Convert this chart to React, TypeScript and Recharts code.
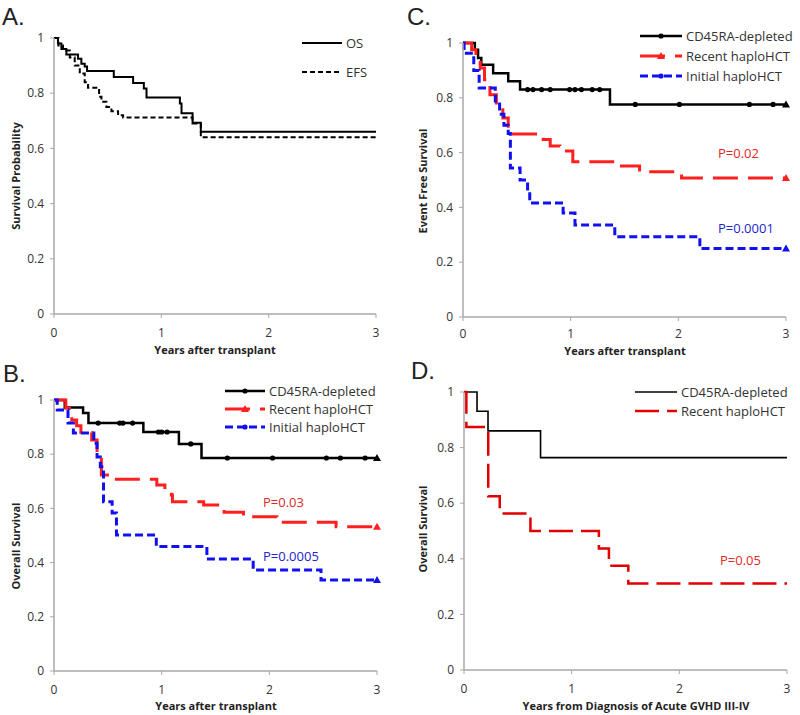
import { LineChart, Line, XAxis, YAxis } from 'recharts';

type Pt = [number, number];

// ---- data (time in years, survival probability) ----
const A_OS: Pt[] = [[0, 1], [0.037, 0.98], [0.069, 0.96], [0.115, 0.94], [0.224, 0.925], [0.255, 0.907], [0.286, 0.897], [0.308, 0.88], [0.557, 0.859], [0.737, 0.837], [0.837, 0.817], [0.862, 0.784], [1.173, 0.763], [1.188, 0.727], [1.291, 0.693], [1.368, 0.66], [3, 0.66]];
const A_EFS: Pt[] = [[0, 1], [0.041, 0.973], [0.084, 0.955], [0.147, 0.929], [0.193, 0.9], [0.24, 0.871], [0.286, 0.84], [0.317, 0.82], [0.42, 0.787], [0.442, 0.769], [0.488, 0.75], [0.535, 0.735], [0.597, 0.72], [0.644, 0.712], [1.291, 0.69], [1.368, 0.64], [3, 0.64]];

const B_DEPLETED: Pt[] = [[0, 1], [0.1, 0.972], [0.27, 0.952], [0.32, 0.915], [0.83, 0.882], [1.16, 0.838], [1.37, 0.786], [3, 0.786]];
const B_DEPLETED_CENSOR = [0.41, 0.61, 0.64, 0.73, 0.97, 1.0, 1.05, 1.27, 1.61, 2.03, 2.53, 2.66, 2.89];
const B_RECENT: Pt[] = [[0, 1], [0.11, 0.97], [0.165, 0.926], [0.21, 0.905], [0.25, 0.88], [0.35, 0.852], [0.4, 0.79], [0.44, 0.723], [0.55, 0.708], [0.955, 0.686], [1.03, 0.667], [1.09, 0.649], [1.1, 0.625], [1.39, 0.613], [1.58, 0.586], [1.76, 0.569], [2.07, 0.549], [2.62, 0.532], [3, 0.532]];
const B_INITIAL: Pt[] = [[0, 1], [0.03, 0.963], [0.13, 0.915], [0.18, 0.878], [0.37, 0.84], [0.4, 0.79], [0.43, 0.754], [0.46, 0.625], [0.54, 0.583], [0.58, 0.502], [0.95, 0.459], [1.42, 0.413], [1.85, 0.373], [2.48, 0.336], [3, 0.336]];

const C_DEPLETED: Pt[] = [[0, 1], [0.11, 0.975], [0.14, 0.945], [0.17, 0.921], [0.28, 0.89], [0.42, 0.86], [0.53, 0.83], [1.365, 0.776], [3, 0.776]];
const C_DEPLETED_CENSOR = [0.6, 0.65, 0.73, 0.81, 0.99, 1.04, 1.1, 1.2, 1.27, 1.6, 2.01, 2.66, 2.88];
const C_RECENT: Pt[] = [[0, 1], [0.08, 0.975], [0.12, 0.945], [0.16, 0.909], [0.2, 0.866], [0.25, 0.811], [0.31, 0.775], [0.37, 0.726], [0.42, 0.69], [0.45, 0.668], [0.745, 0.648], [0.81, 0.624], [0.9, 0.606], [1.02, 0.567], [1.39, 0.551], [1.64, 0.53], [2.03, 0.507], [3, 0.507]];
const C_INITIAL: Pt[] = [[0, 1], [0.01, 0.963], [0.1, 0.9], [0.15, 0.836], [0.3, 0.788], [0.34, 0.74], [0.38, 0.7], [0.42, 0.67], [0.44, 0.544], [0.53, 0.5], [0.6, 0.457], [0.62, 0.416], [0.93, 0.38], [1.04, 0.336], [1.41, 0.293], [2.2, 0.25], [3, 0.25]];

const D_DEPLETED: Pt[] = [[0, 1], [0.121, 0.931], [0.223, 0.86], [0.711, 0.764], [3, 0.764]];
const D_RECENT: Pt[] = [[0, 1], [0.022, 0.874], [0.225, 0.625], [0.332, 0.563], [0.617, 0.5], [1.253, 0.437], [1.346, 0.375], [1.526, 0.311], [3, 0.311]];

const X_TICKS = [0, 1, 2, 3];
const Y_TICKS = [0, 0.2, 0.4, 0.6, 0.8, 1];

const FONT = '"Open Sans", "DejaVu Sans", sans-serif';
const AXIS_GRAY = '#a8a8a8';
const RED = '#ff1f1f';
const BLUE = '#1010f0';

interface Row { t: number; s: number; c?: boolean; end?: boolean }

// merge step points and censor times into one row list for a Line
function buildRows(steps: Pt[], censors: number[] = []): Row[] {
    const rows: Row[] = steps.map(([t, s], i) => ({ t, s, end: i === steps.length - 1 }));
    censors.forEach((ct) => {
        let s = steps[0][1];
        steps.forEach(([t, v]) => {
            if (t <= ct) s = v;
        });
        rows.push({ t: ct, s, c: true });
    });
    return rows.sort((a, b) => a.t - b.t);
}

type Marker = 'dot' | 'tri' | 'none';

interface Series {
    name: string;
    rows: Row[];
    color: string;
    width: number;
    dash?: string;
    censor?: boolean;
    end?: Marker;
    legendMarker?: Marker;
}

const makeDot = (s: Series) => (props: any) => {
    const { cx, cy, payload, index } = props;
    if (s.censor && payload.c) return <circle key={index} cx={cx} cy={cy} r={2.6} fill={s.color} />;
    if (payload.end && s.end === 'tri')
        return <path key={index} d={`M${cx},${cy - 4}L${cx + 4},${cy + 3}L${cx - 4},${cy + 3}Z`} fill={s.color} />;
    return <g key={index} />;
};

interface PanelProps {
    left: number;
    top: number;
    width: number;
    height: number;
    plot: [number, number, number, number]; // x1, y1, x2, y2 (local)
    xTitle: string;
    yTitle: string;
    xTitleAt: [number, number];
    yTitleAt: [number, number];
    tickGap?: number;
    series: Series[];
}

const X_AXIS_H = 40;

function Panel({ left, top, width, height, plot, xTitle, yTitle, xTitleAt, yTitleAt, tickGap = 10, series }: PanelProps) {
    const [x1, y1, x2, y2] = plot;
    const titleStyle = { fontFamily: FONT, fontSize: 11, fontWeight: 700, fill: '#222' };
    return (
        <div style={{ position: 'absolute', left, top, width, height }}>
            <LineChart
                width={width}
                height={height}
                margin={{ top: y1, right: width - x2, left: 0, bottom: height - y2 - X_AXIS_H }}
            >
                <XAxis
                    type="number"
                    dataKey="t"
                    domain={[0, 3]}
                    ticks={X_TICKS}
                    height={X_AXIS_H}
                    tick={{ fontSize: 12, fill: '#333', fontFamily: FONT }}
                    tickSize={4}
                    tickMargin={tickGap}
                    axisLine={{ stroke: AXIS_GRAY, strokeWidth: 1.5 }}
                    tickLine={{ stroke: AXIS_GRAY }}
                    label={{
                        content: () => (
                            <text x={xTitleAt[0]} y={xTitleAt[1]} textAnchor="middle" style={titleStyle}>
                                {xTitle}
                            </text>
                        ),
                    }}
                />
                <YAxis
                    type="number"
                    domain={[0, 1]}
                    ticks={Y_TICKS}
                    width={x1}
                    tick={{ fontSize: 12, fill: '#333', fontFamily: FONT }}
                    tickSize={4}
                    tickMargin={6}
                    axisLine={{ stroke: AXIS_GRAY, strokeWidth: 1.5 }}
                    tickLine={{ stroke: AXIS_GRAY }}
                    label={{
                        content: () => (
                            <text
                                x={yTitleAt[0]}
                                y={yTitleAt[1]}
                                transform={`rotate(-90 ${yTitleAt[0]} ${yTitleAt[1]})`}
                                textAnchor="middle"
                                dominantBaseline="central"
                                style={titleStyle}
                            >
                                {yTitle}
                            </text>
                        ),
                    }}
                />
                {series.map((s) => (
                    <Line
                        key={s.name}
                        name={s.name}
                        data={s.rows}
                        dataKey="s"
                        type="stepAfter"
                        stroke={s.color}
                        strokeWidth={s.width}
                        strokeDasharray={s.dash}
                        dot={makeDot(s)}
                        activeDot={false}
                        isAnimationActive={false}
                    />
                ))}
            </LineChart>
        </div>
    );
}

const panelA: Series[] = [
    { name: 'OS', rows: buildRows(A_OS), color: '#000', width: 2 },
    { name: 'EFS', rows: buildRows(A_EFS), color: '#000', width: 2, dash: '5 3' },
];
const panelB: Series[] = [
    { name: 'CD45RA-depleted', rows: buildRows(B_DEPLETED, B_DEPLETED_CENSOR), color: '#000', width: 2.5, censor: true, end: 'tri', legendMarker: 'dot' },
    { name: 'Recent haploHCT', rows: buildRows(B_RECENT), color: RED, width: 3, dash: '25 10', end: 'tri', legendMarker: 'tri' },
    { name: 'Initial haploHCT', rows: buildRows(B_INITIAL), color: BLUE, width: 3, dash: '8 4', end: 'tri', legendMarker: 'dot' },
];
const panelC: Series[] = [
    { name: 'CD45RA-depleted', rows: buildRows(C_DEPLETED, C_DEPLETED_CENSOR), color: '#000', width: 2.5, censor: true, end: 'tri', legendMarker: 'dot' },
    { name: 'Recent haploHCT', rows: buildRows(C_RECENT), color: RED, width: 3, dash: '25 10', end: 'tri', legendMarker: 'tri' },
    { name: 'Initial haploHCT', rows: buildRows(C_INITIAL), color: BLUE, width: 3, dash: '8 4', end: 'tri', legendMarker: 'dot' },
];
const panelD: Series[] = [
    { name: 'CD45RA-depleted', rows: buildRows(D_DEPLETED), color: '#000', width: 1.6 },
    { name: 'Recent haploHCT', rows: buildRows(D_RECENT), color: '#e00000', width: 2.5, dash: '24 8' },
];

function LegendBlock({ series, x1, x2, y0, dy }: { series: Series[]; x1: number; x2: number; y0: number; dy: number }) {
    return (
        <g>
            {series.map((s, i) => {
                const y = y0 + i * dy;
                const mx = (x1 + x2) / 2;
                return (
                    <g key={s.name}>
                        <line x1={x1} x2={x2} y1={y} y2={y} stroke={s.color} strokeWidth={s.width} strokeDasharray={s.dash} />
                        {s.legendMarker === 'dot' && <circle cx={mx} cy={y} r={2.6} fill={s.color} />}
                        {s.legendMarker === 'tri' && <path d={`M${mx},${y - 4}L${mx + 4},${y + 3}L${mx - 4},${y + 3}Z`} fill={s.color} />}
                        <text x={x2 + 4} y={y + 4.5} fontSize={13} fill="#333" fontFamily={FONT}>
                            {s.name}
                        </text>
                    </g>
                );
            })}
        </g>
    );
}

export default function App() {
    const letter = { fontFamily: '"Liberation Sans", Arial, sans-serif', fontSize: 24, fill: '#222' };
    const pval = { fontFamily: FONT, fontSize: 13 };
    return (
        <div style={{ position: 'absolute', left: 0, top: 0, width: 800, height: 715, background: '#fff', overflow: 'hidden' }}>
            <Panel left={0} top={0} width={400} height={357} plot={[54, 38, 376, 314]}
                xTitle="Years after transplant" yTitle="Survival Probability" xTitleAt={[215, 354]} yTitleAt={[15, 176]} series={panelA} />
            <Panel left={400} top={0} width={400} height={357} plot={[63, 43, 386, 317]} tickGap={8}
                xTitle="Years after transplant" yTitle="Event Free Survival" xTitleAt={[225, 355]} yTitleAt={[22, 181]} series={panelC} />
            <Panel left={0} top={357} width={400} height={358} plot={[54, 43, 377, 314]}
                xTitle="Years after transplant" yTitle="Overall Survival" xTitleAt={[216, 353]} yTitleAt={[15, 189]} series={panelB} />
            <Panel left={400} top={357} width={400} height={358} plot={[64, 35, 387, 313]}
                xTitle="Years from Diagnosis  of Acute GVHD III-IV" yTitle="Overall Survival" xTitleAt={[236, 353]} yTitleAt={[22, 172]} series={panelD} />
            <svg width={800} height={715} style={{ position: 'absolute', left: 0, top: 0, pointerEvents: 'none' }}>
                <text x={2} y={25} style={letter}>A.</text>
                <text x={407} y={25} style={letter}>C.</text>
                <text x={3} y={382} style={letter}>B.</text>
                <text x={411} y={379} style={letter}>D.</text>

                <LegendBlock series={panelA} x1={302} x2={342} y0={43} dy={29} />
                <LegendBlock series={panelC} x1={640} x2={682} y0={36} dy={20} />
                <LegendBlock series={panelB} x1={225} x2={265} y0={391} dy={18} />
                <LegendBlock series={panelD} x1={635} x2={677} y0={392} dy={19} />

                <text x={718} y={158} fill="#e02828" style={pval}>P=0.02</text>
                <text x={718} y={233} fill="#2424c8" style={pval}>P=0.0001</text>
                <text x={263} y={507} fill="#e02828" style={pval}>P=0.03</text>
                <text x={263} y={561} fill="#2424c8" style={pval}>P=0.0005</text>
                <text x={720} y={565} fill="#e02828" style={pval}>P=0.05</text>
            </svg>
        </div>
    );
}
